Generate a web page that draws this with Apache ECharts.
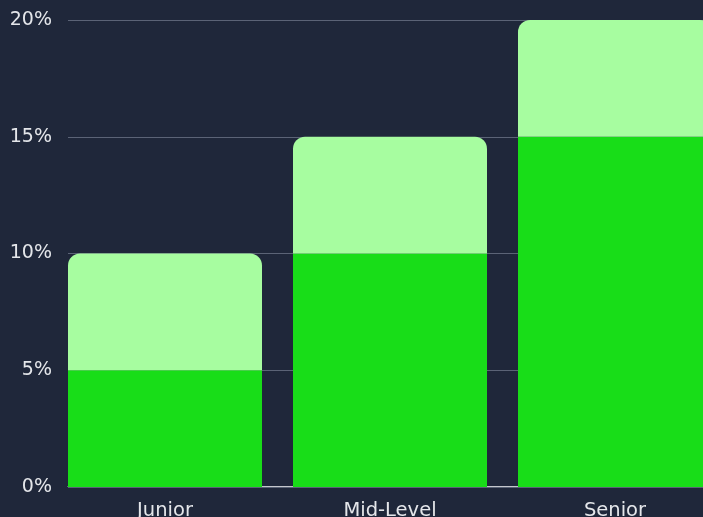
<!DOCTYPE html>
<html>
<head>
<meta charset="utf-8">
<script src="https://cdn.jsdelivr.net/npm/echarts@6/dist/echarts.min.js"></script>
<style>
  html, body { margin: 0; padding: 0; background: #1f273a; }
  #main { width: 703px; height: 517px; }
</style>
</head>
<body>
<div id="main"></div>
<script>
// 数据
var categories = ['Junior', 'Mid-Level', 'Senior'];
var baseValues = [5, 10, 15];
var topValues = [5, 5, 5];
var yTicks = [0, 5, 10, 15, 20];

var myChart = echarts.init(document.getElementById('main'));
var labelFont = {
  color: '#e4e6ea',
  fontFamily: 'DejaVu Sans',
  fontSize: 19.5
};

var option = {
  backgroundColor: '#1f273a',
  animation: false,
  grid: [
    // 柱子用的网格（右边超出画布）
    { left: 52.5, width: 675, top: 20, bottom: 30, outerBoundsMode: 'none', containLabel: false },
    // 网格线和y轴
    { left: 68, width: 660, top: 20, bottom: 30, outerBoundsMode: 'none', containLabel: false }
  ],
  xAxis: [
    {
      type: 'category',
      gridIndex: 0,
      data: categories,
      axisLine: { show: false },
      axisTick: { show: false },
      axisLabel: Object.assign({ margin: 14 }, labelFont)
    },
    {
      type: 'value',
      gridIndex: 1,
      min: 0,
      max: 1,
      offset: -1,
      axisLine: { show: true, onZero: false, lineStyle: { color: '#c3c6cc', width: 1 } },
      axisTick: { show: false },
      axisLabel: { show: false },
      splitLine: { show: false }
    }
  ],
  yAxis: [
    {
      type: 'value',
      gridIndex: 0,
      min: yTicks[0],
      max: yTicks[yTicks.length - 1],
      interval: 5,
      show: false
    },
    {
      type: 'value',
      gridIndex: 1,
      min: yTicks[0],
      max: yTicks[yTicks.length - 1],
      interval: 5,
      axisLine: { show: false },
      axisTick: { show: false },
      axisLabel: Object.assign({ margin: 16, formatter: '{value}%' }, labelFont, { fontSize: 19 }),
      splitLine: { show: true, lineStyle: { color: '#5b6376', width: 1 } }
    }
  ],
  series: [
    {
      name: 'base',
      type: 'bar',
      xAxisIndex: 0,
      yAxisIndex: 0,
      stack: 'total',
      barWidth: 194,
      data: baseValues,
      itemStyle: { color: '#18dd18' }
    },
    {
      name: 'top',
      type: 'bar',
      xAxisIndex: 0,
      yAxisIndex: 0,
      stack: 'total',
      barWidth: 194,
      data: topValues,
      itemStyle: { color: '#a7fda0', borderRadius: [12, 12, 0, 0] }
    }
  ]
};
myChart.setOption(option);
</script>
</body>
</html>
